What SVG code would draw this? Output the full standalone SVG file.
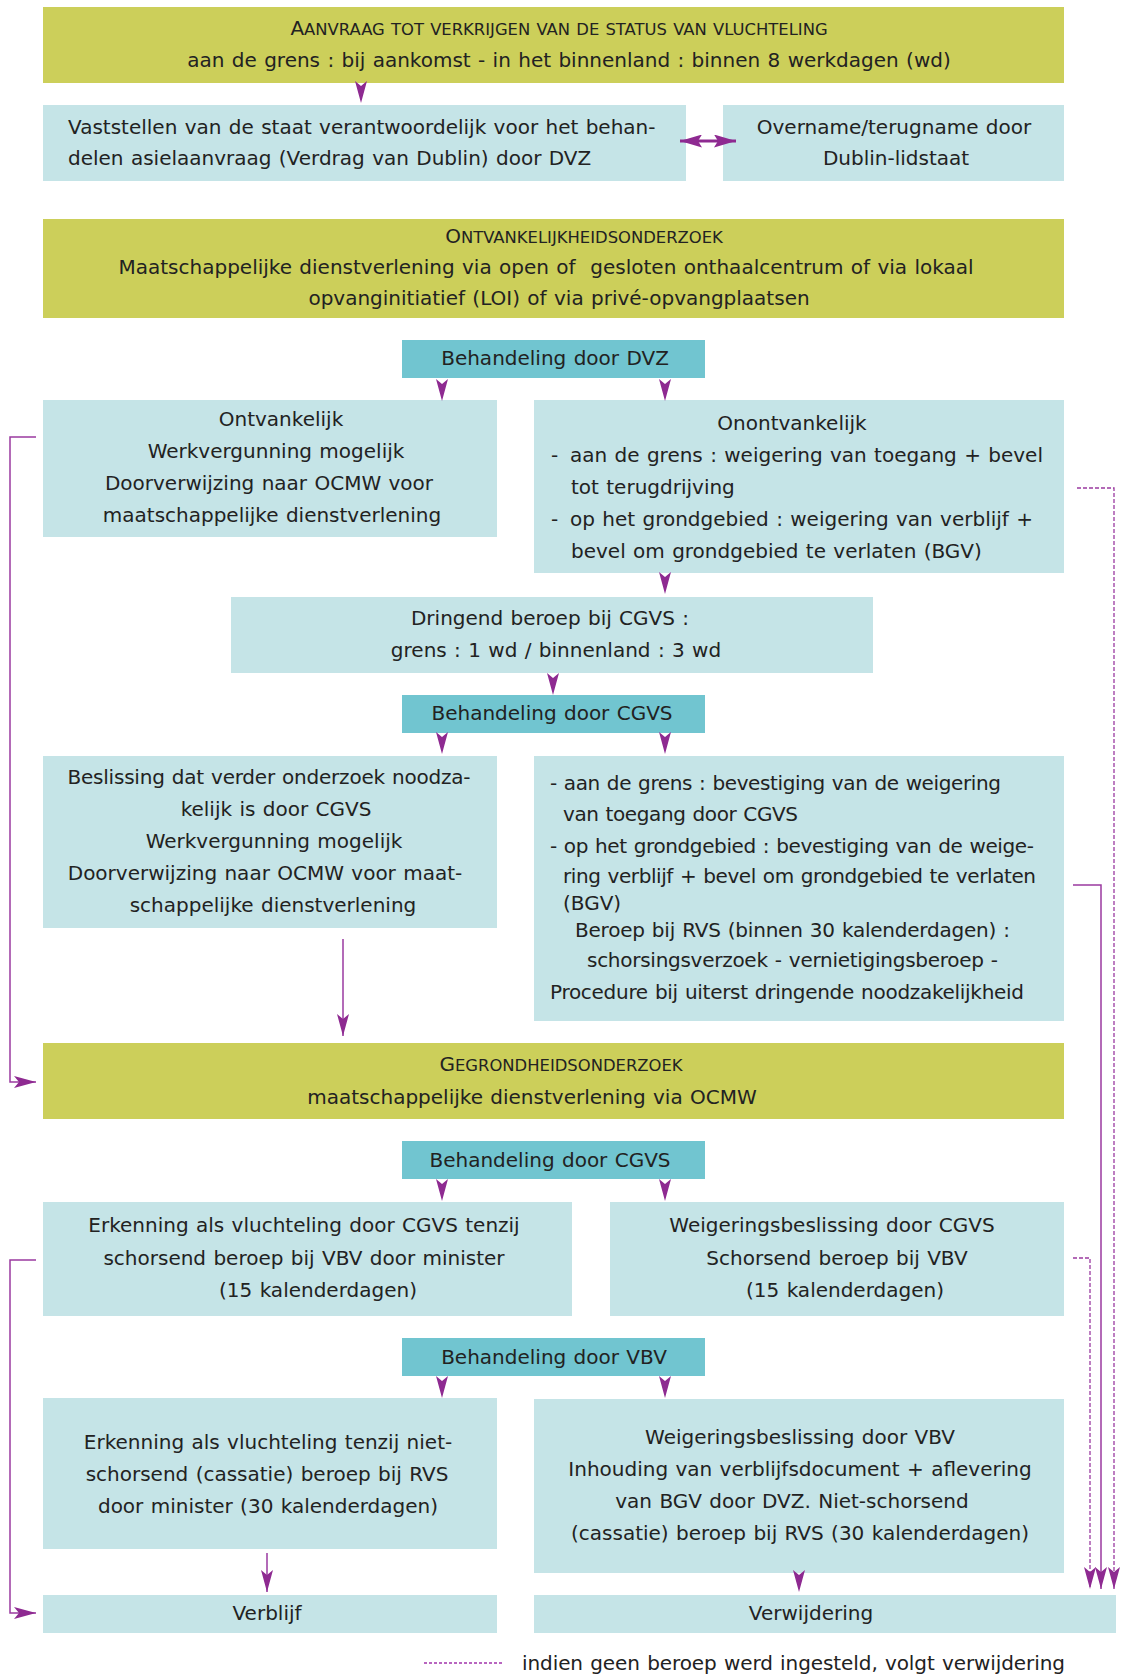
<svg xmlns="http://www.w3.org/2000/svg" width="1124" height="1675" viewBox="0 0 1124 1675">
<style>
.t{font-family:"DejaVu Sans",Verdana,sans-serif;font-size:20px;fill:#222;word-spacing:1px}
.c{text-anchor:middle}
.s{font-size:16.4px}
.ol{fill:#cccf5a}
.lb{fill:#c5e4e7}
.tl{fill:#71c5d0}
.ln{fill:none;stroke:#9a3aa0;stroke-width:1.5}
.dl{fill:none;stroke:#9a3aa0;stroke-width:1.3;stroke-dasharray:4 2}
.sp{fill:none;stroke:none}
</style>
<defs>
<marker id="ah" viewBox="0 0 22 12" refX="22" refY="6" markerWidth="22" markerHeight="12" markerUnits="userSpaceOnUse" orient="auto">
<path d="M0,0 L22,6 L0,12 L5,6 Z" fill="#8e2a91"/>
</marker>
<marker id="ah2" viewBox="0 0 22 13" refX="22" refY="6.5" markerWidth="22" markerHeight="13" markerUnits="userSpaceOnUse" orient="auto-start-reverse">
<path d="M0,0 L22,6.5 L0,13 L4,6.5 Z" fill="#8e2a91"/>
</marker>
</defs>

<g id="n1"><rect class="ol" x="43" y="7" width="1021" height="76"/>
<text class="t c" x="559" y="35">A<tspan class="s">ANVRAAG TOT VERKRIJGEN VAN DE STATUS VAN VLUCHTELING</tspan></text>
<text class="t c" x="569" y="67">aan de grens : bij aankomst - in het binnenland : binnen 8 werkdagen (wd)</text></g>

<g id="n2"><rect class="lb" x="43" y="105" width="643" height="76"/>
<text class="t" x="68" y="134">Vaststellen van de staat verantwoordelijk voor het behan-</text>
<text class="t" x="68" y="165">delen asielaanvraag (Verdrag van Dublin) door DVZ</text></g>

<g id="n3"><rect class="lb" x="723" y="105" width="341" height="76"/>
<text class="t c" x="894" y="134">Overname/terugname door</text>
<text class="t c" x="896" y="165">Dublin-lidstaat</text></g>

<g id="n4"><rect class="ol" x="43" y="219" width="1021" height="99"/>
<text class="t c" x="584" y="243">O<tspan class="s">NTVANKELIJKHEIDSONDERZOEK</tspan></text>
<text class="t c" x="546" y="274">Maatschappelijke dienstverlening via open of&#160; gesloten onthaalcentrum of via lokaal</text>
<text class="t c" x="559" y="305">opvanginitiatief (LOI) of via privé-opvangplaatsen</text></g>

<g id="n5"><rect class="tl" x="402" y="340" width="303" height="38"/>
<text class="t c" x="555" y="365">Behandeling door DVZ</text></g>

<g id="n6"><rect class="lb" x="43" y="400" width="454" height="137"/>
<text class="t c" x="281" y="426">Ontvankelijk</text>
<text class="t c" x="276" y="458">Werkvergunning mogelijk</text>
<text class="t c" x="269" y="490">Doorverwijzing naar OCMW voor</text>
<text class="t c" x="272" y="522">maatschappelijke dienstverlening</text></g>

<g id="n7"><rect class="lb" x="534" y="400" width="530" height="173"/>
<text class="t c" x="792" y="430">Onontvankelijk</text>
<text class="t" x="551" y="462">-</text>
<text class="t" x="570" y="462">aan de grens : weigering van toegang + bevel</text>
<text class="t" x="571" y="494">tot terugdrijving</text>
<text class="t" x="551" y="526">-</text>
<text class="t" x="570" y="526">op het grondgebied : weigering van verblijf +</text>
<text class="t" x="571" y="558">bevel om grondgebied te verlaten (BGV)</text></g>

<g id="n8"><rect class="lb" x="231" y="597" width="642" height="76"/>
<text class="t c" x="550" y="625">Dringend beroep bij CGVS :</text>
<text class="t c" x="556" y="657">grens : 1 wd / binnenland : 3 wd</text></g>

<g id="n9"><rect class="tl" x="402" y="695" width="303" height="38"/>
<text class="t c" x="552" y="720">Behandeling door CGVS</text></g>

<g id="n10"><rect class="lb" x="43" y="756" width="454" height="172"/>
<text class="t c" x="269" y="784" textLength="403" lengthAdjust="spacing">Beslissing dat verder onderzoek noodza-</text>
<text class="t c" x="276" y="816">kelijk is door CGVS</text>
<text class="t c" x="274" y="848">Werkvergunning mogelijk</text>
<text class="t c" x="265" y="880">Doorverwijzing naar OCMW voor maat-</text>
<text class="t c" x="273" y="912">schappelijke dienstverlening</text></g>

<g id="n11"><rect class="lb" x="534" y="756" width="530" height="265"/>
<text class="t" x="550" y="790" textLength="451" lengthAdjust="spacing">- aan de grens : bevestiging van de weigering</text>
<text class="t" x="563" y="821" textLength="235" lengthAdjust="spacing">van toegang door CGVS</text>
<text class="t" x="550" y="853" textLength="484" lengthAdjust="spacing">- op het grondgebied : bevestiging van de weige-</text>
<text class="t" x="563" y="883" textLength="473" lengthAdjust="spacing">ring verblijf + bevel om grondgebied te verlaten</text>
<text class="t" x="563" y="910">(BGV)</text>
<text class="t" x="575" y="937" textLength="435" lengthAdjust="spacing">Beroep bij RVS (binnen 30 kalenderdagen) :</text>
<text class="t" x="587" y="967" textLength="411" lengthAdjust="spacing">schorsingsverzoek - vernietigingsberoep -</text>
<text class="t" x="550" y="999" textLength="474" lengthAdjust="spacing">Procedure bij uiterst dringende noodzakelijkheid</text></g>

<g id="n12"><rect class="ol" x="43" y="1043" width="1021" height="76"/>
<text class="t c" x="561" y="1071">G<tspan class="s">EGRONDHEIDSONDERZOEK</tspan></text>
<text class="t c" x="532" y="1104">maatschappelijke dienstverlening via OCMW</text></g>

<g id="n13"><rect class="tl" x="402" y="1141" width="303" height="38"/>
<text class="t c" x="550" y="1167">Behandeling door CGVS</text></g>

<g id="n14"><rect class="lb" x="43" y="1202" width="529" height="114"/>
<text class="t c" x="304" y="1232">Erkenning als vluchteling door CGVS tenzij</text>
<text class="t c" x="304" y="1265">schorsend beroep bij VBV door minister</text>
<text class="t c" x="318" y="1297">(15 kalenderdagen)</text></g>

<g id="n15"><rect class="lb" x="610" y="1202" width="454" height="114"/>
<text class="t c" x="832" y="1232">Weigeringsbeslissing door CGVS</text>
<text class="t c" x="837" y="1265">Schorsend beroep bij VBV</text>
<text class="t c" x="845" y="1297">(15 kalenderdagen)</text></g>

<g id="n16"><rect class="tl" x="402" y="1338" width="303" height="38"/>
<text class="t c" x="554" y="1364">Behandeling door VBV</text></g>

<g id="n17"><rect class="lb" x="43" y="1398" width="454" height="151"/>
<text class="t c" x="268" y="1449">Erkenning als vluchteling tenzij niet-</text>
<text class="t c" x="267" y="1481">schorsend (cassatie) beroep bij RVS</text>
<text class="t c" x="268" y="1513">door minister (30 kalenderdagen)</text></g>

<g id="n18"><rect class="lb" x="534" y="1399" width="530" height="174"/>
<text class="t c" x="800" y="1444">Weigeringsbeslissing door VBV</text>
<text class="t c" x="800" y="1476">Inhouding van verblijfsdocument + aflevering</text>
<text class="t c" x="792" y="1508">van BGV door DVZ. Niet-schorsend</text>
<text class="t c" x="800" y="1540">(cassatie) beroep bij RVS (30 kalenderdagen)</text></g>

<g id="n19"><rect class="lb" x="43" y="1595" width="454" height="38"/>
<text class="t c" x="267" y="1620">Verblijf</text></g>

<g id="n20"><rect class="lb" x="534" y="1595" width="582" height="38"/>
<text class="t c" x="811" y="1620">Verwijdering</text></g>

<g id="legend">
<line x1="424" y1="1663" x2="502" y2="1663" stroke="#b866c0" stroke-width="2" stroke-dasharray="3 2"/>
<text class="t" x="522" y="1670" textLength="543" lengthAdjust="spacing">indien geen beroep werd ingesteld, volgt verwijdering</text></g>

<g id="connectors">
<line class="sp" x1="361" y1="79" x2="361" y2="103" marker-end="url(#ah)"/>
<line x1="680" y1="141" x2="736" y2="141" stroke="#8e2a91" stroke-width="3" marker-start="url(#ah2)" marker-end="url(#ah2)"/>
<line class="sp" x1="442" y1="378" x2="442" y2="401" marker-end="url(#ah)"/>
<line class="sp" x1="665" y1="378" x2="665" y2="401" marker-end="url(#ah)"/>
<line class="sp" x1="665" y1="572" x2="665" y2="594" marker-end="url(#ah)"/>
<line class="sp" x1="553" y1="673" x2="553" y2="695" marker-end="url(#ah)"/>
<line class="sp" x1="442" y1="733" x2="442" y2="754" marker-end="url(#ah)"/>
<line class="sp" x1="665" y1="733" x2="665" y2="754" marker-end="url(#ah)"/>
<line class="ln" x1="343" y1="939" x2="343" y2="1036" marker-end="url(#ah)"/>
<polyline class="ln" points="36,437 10,437 10,1082 36,1082" marker-end="url(#ah)"/>
<line class="sp" x1="442" y1="1179" x2="442" y2="1201" marker-end="url(#ah)"/>
<line class="sp" x1="665" y1="1179" x2="665" y2="1201" marker-end="url(#ah)"/>
<line class="sp" x1="442" y1="1376" x2="442" y2="1398" marker-end="url(#ah)"/>
<line class="sp" x1="665" y1="1376" x2="665" y2="1398" marker-end="url(#ah)"/>
<polyline class="ln" points="36,1260 10,1260 10,1613 36,1613" marker-end="url(#ah)"/>
<line class="ln" x1="267" y1="1553" x2="267" y2="1592" marker-end="url(#ah)"/>
<line class="sp" x1="799" y1="1568" x2="799" y2="1592" marker-end="url(#ah)"/>
<polyline class="dl" points="1077,488 1114,488 1114,1589" marker-end="url(#ah)"/>
<polyline class="ln" points="1073,885 1101,885 1101,1589" marker-end="url(#ah)"/>
<polyline class="dl" points="1073,1258 1090,1258 1090,1589" marker-end="url(#ah)"/>
</g>
</svg>
